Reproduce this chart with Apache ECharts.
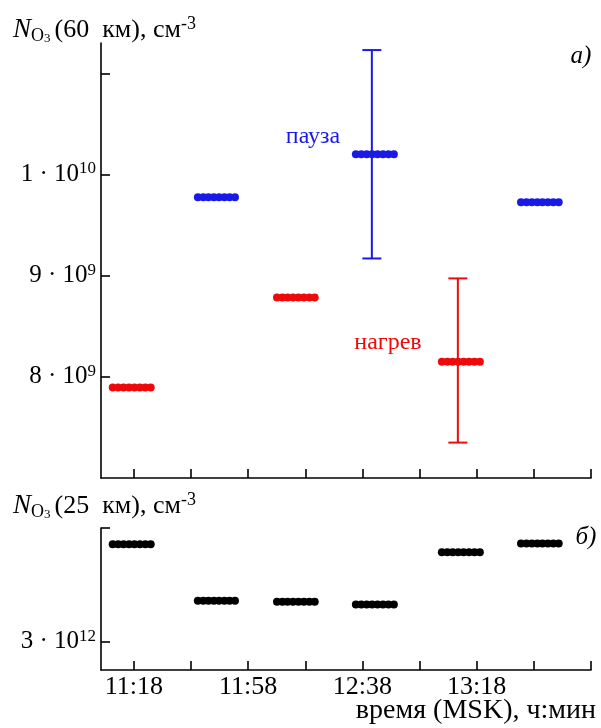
<!DOCTYPE html>
<html>
<head>
<meta charset="utf-8">
<title>Ozone 60 km / 25 km</title>
<script src="https://cdn.jsdelivr.net/npm/echarts@6/dist/echarts.min.js"></script>
<style>
    html, body { margin: 0; padding: 0; background: #fff; }
    #chart { width: 601px; height: 728px; }
</style>
</head>
<body>
<div id="chart"></div>
<script type="text/javascript">
    // time in minutes after midnight (MSK), one row per measurement run, 8 profiles each
    var runTimes = [
        [670.6, 672.5, 674.4, 676.3, 678.2, 680.1, 682.0, 683.9],
        [700.4, 702.3, 704.1, 706.0, 707.8, 709.7, 711.5, 713.4],
        [728.1, 730.0, 731.8, 733.7, 735.6, 737.5, 739.4, 741.3],
        [755.7, 757.6, 759.5, 761.4, 763.3, 765.2, 767.1, 769.0],
        [785.8, 787.7, 789.6, 791.5, 793.4, 795.3, 797.2, 799.1],
        [813.5, 815.4, 817.3, 819.2, 821.0, 822.9, 824.8, 826.7]
    ];
    // heating on (нагрев) or off (пауза) for each run
    var runHeating = [true, false, true, false, true, false];
    // N_O3 at 60 km, cm^-3
    var o3at60 = [7.894e9, 9.775e9, 8.785e9, 1.020e10, 8.15e9, 9.726e9];
    // N_O3 at 25 km, cm^-3
    var o3at25 = [3.343e12, 3.144e12, 3.140e12, 3.131e12, 3.315e12, 3.345e12];
    // error bars: [time, low, high]
    var errPause = [[761.3, 9.17e9, 1.123e10]];
    var errHeat = [[791.4, 7.35e9, 8.973e9]];
    // ticks
    var timeTicks = [678, 698, 718, 738, 758, 778, 798, 818, 838];
    var timeLabels = [678, 718, 758, 798];
    var topTicks = [8e9, 9e9, 1e10, 1.1e10];
    var topLabels = [8e9, 9e9, 1e10];
    var botTicks = [3.0e12, 3.4e12];
    var botLabels = [3.0e12];

    var RED = '#ee0a0a';
    var BLUE = '#1a1ae6';
    var SERIF = '"Liberation Serif", "DejaVu Serif", serif';

    function pts(values, pick) {
        var out = [];
        runTimes.forEach(function (ts, i) {
            if (pick(i)) {
                ts.forEach(function (t) { out.push([t, values[i]]); });
            }
        });
        return out;
    }

    function hhmm(v) {
        var h = Math.floor(v / 60), m = Math.round(v - h * 60);
        return h + ':' + (m < 10 ? '0' + m : m);
    }

    function sciLabel(v) {
        var e = Math.floor(Math.log10(v) + 1e-9);
        var m = Math.round(v / Math.pow(10, e));
        return '{n|' + m + ' \u00b7 10}{s|' + e + '}';
    }

    var axisLine = {show: true, lineStyle: {color: '#000', width: 1.6}};
    var labelRich = {
        n: {fontFamily: SERIF, fontSize: 25, lineHeight: 28, color: '#000'},
        s: {fontFamily: SERIF, fontSize: 17, lineHeight: 14, verticalAlign: 'top', color: '#000'}
    };

    function errorBar(color) {
        return function (params, api) {
            var x = api.value(0);
            var lo = api.coord([x, api.value(1)]);
            var hi = api.coord([x, api.value(2)]);
            var w = 9.5;
            var st = {stroke: color, lineWidth: 2};
            return {
                type: 'group',
                children: [
                    {type: 'line', shape: {x1: lo[0], y1: lo[1], x2: hi[0], y2: hi[1]}, style: st},
                    {type: 'line', shape: {x1: lo[0] - w, y1: lo[1], x2: lo[0] + w, y2: lo[1]}, style: st},
                    {type: 'line', shape: {x1: hi[0] - w, y1: hi[1], x2: hi[0] + w, y2: hi[1]}, style: st}
                ]
            };
        };
    }

    var titleRich = {
        i: {fontFamily: SERIF, fontStyle: 'italic', fontSize: 27, lineHeight: 30, fill: '#000'},
        n: {fontFamily: SERIF, fontSize: 26, lineHeight: 30, fill: '#000'},
        o: {fontFamily: SERIF, fontSize: 18, lineHeight: 20, verticalAlign: 'bottom', fill: '#000'},
        d: {fontFamily: SERIF, fontSize: 13, lineHeight: 16, verticalAlign: 'bottom', fill: '#000',
            padding: [0, 4, 0, 0]},
        s: {fontFamily: SERIF, fontSize: 18, lineHeight: 12, verticalAlign: 'top', fill: '#000'}
    };

    var myChart = echarts.init(document.getElementById('chart'), null, {renderer: 'canvas'});
    var option = {
        animation: false,
        backgroundColor: '#fff',
        grid: [
            {left: 101, top: 43, width: 490, height: 435},
            {left: 101, top: 528, width: 490, height: 142}
        ],
        xAxis: [
            {
                type: 'value', gridIndex: 0, min: 666.5, max: 838,
                axisLine: axisLine,
                axisTick: {show: true, inside: true, length: 9, customValues: timeTicks,
                    lineStyle: {color: '#000', width: 1.6}},
                axisLabel: {show: false},
                splitLine: {show: false}
            },
            {
                type: 'value', gridIndex: 1, min: 666.5, max: 838,
                axisLine: axisLine,
                axisTick: {show: true, inside: true, length: 9, customValues: timeTicks,
                    lineStyle: {color: '#000', width: 1.6}},
                axisLabel: {show: true, customValues: timeLabels, margin: 4, formatter: hhmm,
                    fontFamily: SERIF, fontSize: 26, color: '#000'},
                splitLine: {show: false}
            }
        ],
        yAxis: [
            {
                type: 'value', gridIndex: 0, min: 7e9, max: 1.13e10,
                axisLine: axisLine,
                axisTick: {show: true, inside: true, length: 9, customValues: topTicks,
                    lineStyle: {color: '#000', width: 1.6}},
                axisLabel: {show: true, customValues: topLabels, margin: 5, formatter: sciLabel,
                    rich: labelRich},
                splitLine: {show: false}
            },
            {
                type: 'value', gridIndex: 1, min: 2.9e12, max: 3.4e12,
                axisLine: axisLine,
                axisTick: {show: true, inside: true, length: 9, customValues: botTicks,
                    lineStyle: {color: '#000', width: 1.6}},
                axisLabel: {show: true, customValues: botLabels, margin: 5, formatter: sciLabel,
                    rich: labelRich},
                splitLine: {show: false}
            }
        ],
        series: [
            {
                name: 'нагрев', type: 'scatter', xAxisIndex: 0, yAxisIndex: 0,
                symbolSize: 8, itemStyle: {color: RED, opacity: 1},
                data: pts(o3at60, function (i) { return runHeating[i]; }), z: 3
            },
            {
                name: 'пауза', type: 'scatter', xAxisIndex: 0, yAxisIndex: 0,
                symbolSize: 8, itemStyle: {color: BLUE, opacity: 1},
                data: pts(o3at60, function (i) { return !runHeating[i]; }), z: 3
            },
            {
                type: 'custom', xAxisIndex: 0, yAxisIndex: 0,
                renderItem: errorBar(RED), data: errHeat, z: 2, silent: true
            },
            {
                type: 'custom', xAxisIndex: 0, yAxisIndex: 0,
                renderItem: errorBar(BLUE), data: errPause, z: 2, silent: true
            },
            {
                name: '25 km', type: 'scatter', xAxisIndex: 1, yAxisIndex: 1,
                symbolSize: 8, itemStyle: {color: '#000', opacity: 1},
                data: pts(o3at25, function () { return true; })
            }
        ],
        graphic: [
            {type: 'text', left: 13, top: 15, style: {
                text: '{i|N}{o|O}{d|3}{n|(60\u2002км), см}{s|-3}', rich: titleRich}},
            {type: 'text', left: 13, top: 491, style: {
                text: '{i|N}{o|O}{d|3}{n|(25\u2002км), см}{s|-3}', rich: titleRich}},
            {type: 'text', x: 313, y: 137, style: {text: 'пауза', fill: BLUE,
                font: '24px ' + SERIF, align: 'center', verticalAlign: 'middle'}},
            {type: 'text', x: 388, y: 343, style: {text: 'нагрев', fill: RED,
                font: '24px ' + SERIF, align: 'center', verticalAlign: 'middle'}},
            {type: 'text', x: 581, y: 56, style: {text: 'a)', fill: '#000',
                font: 'italic 25px ' + SERIF, align: 'center', verticalAlign: 'middle'}},
            {type: 'text', x: 586, y: 537, style: {text: 'б)', fill: '#000',
                font: 'italic 25px ' + SERIF, align: 'center', verticalAlign: 'middle'}},
            {type: 'text', right: 5, top: 697, style: {text: 'время (MSK), ч:мин', fill: '#000',
                font: '28px ' + SERIF}}
        ]
    };
    myChart.setOption(option);
</script>
</body>
</html>
